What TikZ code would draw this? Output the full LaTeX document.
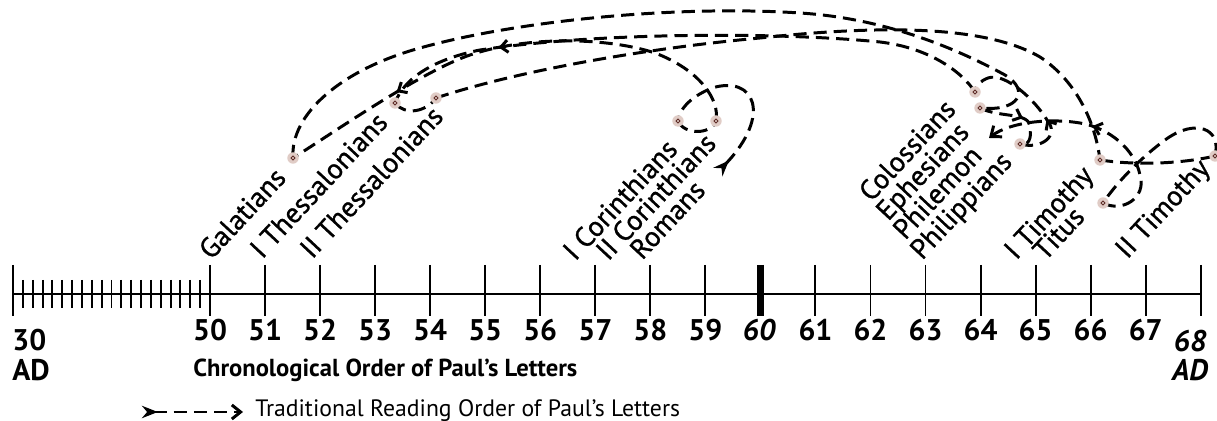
\documentclass[tikz,border=0pt]{standalone}
\usepackage{fontspec}
\setmainfont{PT Sans}
\newfontfamily\lblfont[FakeBold=1]{PT Sans}
\usepackage{tikz}
\usetikzlibrary{arrows.meta,decorations.markings}
\definecolor{halo}{RGB}{224,204,198}
\definecolor{ring}{RGB}{95,45,40}

\begin{document}
\begin{tikzpicture}[
            x=0.02cm, y=-0.02cm,
            route/.style={dash pattern=on 7.5pt off 4pt, line width=1.7pt},
            midtip/.style={postaction={decorate}, decoration={markings,
                mark=at position #1 with {\arrow{Straight Barb[length=4pt,width=7pt]}}}},
            stop/.style={circle, fill=halo, minimum size=6.5pt, inner sep=0pt,
                path picture={\draw[ring, line width=0.5pt] (path picture bounding box.center) circle (1.1pt);}},
            letter/.style={rotate=47, anchor=base west, inner sep=0pt, font=\lblfont\fontsize{16}{18}\selectfont},
            yr/.style={inner sep=0pt, font=\bfseries\fontsize{17}{19}\selectfont}
        ]
            \useasboundingbox (0,0) rectangle (1217,421);

            % time line
            \draw [line width=1.1pt] (13,294) -- (1201,294);
            \draw [line width=1.1pt] (13,265) -- (13,316);
            \foreach \k in {1,...,19} {
                \draw [line width=1.1pt] ({13+\k*9.85},280) -- ({13+\k*9.85},308);
            }
            \foreach \y in {50,51,...,59,61,62,...,68} {
                \draw [line width=1.1pt] ({210+(\y-50)*55.04},265) -- ({210+(\y-50)*55.04},316);
            }
            \draw [line width=4pt] (760.4,265) -- (760.4,316);

            % years
            \node[yr, anchor=west] (y30) at (12,340) {30};
            \node[yr, anchor=west] (ad30) at (12,370) {AD};
            \foreach \y in {50,51,...,59,61,62,...,67} {
                \node[yr] (y\y) at ({210+(\y-50)*55.04},330) {\y};
            }
            \node[yr, font=\bfseries\itshape\fontsize{17}{19}\selectfont] (y60) at (759,330) {60};
            \node[yr, font=\bfseries\itshape\fontsize{17}{19}\selectfont] (y68) at (1190,341) {68};
            \node[yr, font=\bfseries\itshape\fontsize{17}{19}\selectfont] (ad68) at (1190,370) {AD};
            \node[anchor=west, inner sep=0pt, font=\bfseries\fontsize{14}{16}\selectfont] (chron) at (193,370) {Chronological Order of Paul’s Letters};

            % letters
            \node[letter] (lgal) at (211,261) {Galatians};
            \node[letter] (lthA) at (262,260) {I Thessalonians};
            \node[letter] (lthB) at (312,260) {II Thessalonians};
            \node[letter] (lcorA) at (575,262) {I Corinthians};
            \node[letter] (lcorB) at (608,262) {II Corinthians};
            \node[letter] (lrom) at (642,261) {Romans};
            \node[letter] (lcol) at (871,203) {Colossians};
            \node[letter] (leph) at (888,222) {Ephesians};
            \node[letter] (lphm) at (905,241) {Philemon};
            \node[letter] (lphp) at (922,261) {Philippians};
            \node[letter] (ltimA) at (1016,261) {I Timothy};
            \node[letter] (ltit) at (1045,262) {Titus};
            \node[letter] (ltimB) at (1127,260) {II Timothy};

            % stops of the reading order
            \coordinate (rom) at (718,172);
            \coordinate (corA) at (678,121);
            \coordinate (corB) at (716,121);
            \coordinate (gal) at (293,158);
            \coordinate (eph) at (980,108);
            \coordinate (php) at (1020,144);
            \coordinate (col) at (975,92);
            \coordinate (thA) at (395,103);
            \coordinate (thB) at (436,98);
            \coordinate (timA) at (1100,160);
            \coordinate (timB) at (1215,156);
            \coordinate (tit) at (1103,203);
            \coordinate (phm) at (989,138);

            \draw [route, {Stealth[reversed,length=9pt,width=7pt]}-] (rom) .. controls (772,115) and (755,75) .. (712,88) .. controls (695,95) and (680,106) .. (corA);
            \draw [route] (corA) .. controls (684,135) and (711,135) .. (corB);
            \draw [route, midtip=0.75] (corB) .. controls (720,100) and (700,70) .. (655,53) .. controls (610,38) and (530,35) .. (470,55) .. controls (420,72) and (330,135) .. (gal);
            \draw [route] (gal) .. controls (290,115) and (340,70) .. (420,48) .. controls (520,20) and (680,5) .. (800,13) .. controls (880,18) and (950,45) .. (1005,75) .. controls (1030,90) and (1020,112) .. (eph);
            \draw [route, midtip=0.55] (eph) .. controls (1000,118) and (1028,112) .. (1030,126) .. controls (1032,140) and (1028,146) .. (php);
            \draw [route, midtip=0.35] (php) .. controls (1042,150) and (1060,135) .. (1047,120) .. controls (1035,100) and (1005,72) .. (988,78) .. controls (980,81) and (976,86) .. (col);
            \draw [route, midtip=0.8] (col) .. controls (962,72) and (930,48) .. (880,42) .. controls (780,32) and (600,32) .. (480,50) .. controls (440,58) and (405,75) .. (thA);
            \draw [route] (thA) .. controls (405,116) and (426,112) .. (thB);
            \draw [route] (thB) .. controls (520,70) and (650,48) .. (760,38) .. controls (880,25) and (985,25) .. (1040,57) .. controls (1075,80) and (1095,120) .. (timA);
            \draw [route] (timA) .. controls (1140,166) and (1185,163) .. (timB);
            \draw [route] (timB) .. controls (1222,128) and (1195,118) .. (1165,140) .. controls (1138,160) and (1115,185) .. (tit);
            \draw [route, midtip=0.55, -{Straight Barb[length=5pt,width=8pt]}] (tit) .. controls (1122,213) and (1147,198) .. (1140,175) .. controls (1135,150) and (1110,128) .. (1080,123) .. controls (1050,118) and (1010,122) .. (phm);

            \foreach \p in {corA,corB,gal,eph,php,col,thA,thB,timA,timB,tit} {
                \node[stop] (d\p) at (\p) {};
            }

            % legend
            \coordinate (legA) at (142,412);
            \coordinate (legB) at (243,412);
            \draw [route, {Stealth[reversed,length=9pt,width=7pt]}-{Straight Barb[length=5pt,width=8pt]}] (legA) -- (legB);
            \node[anchor=west, inner sep=0pt, font=\fontsize{13.5}{15}\selectfont] (legtxt) at (255,411) {Traditional Reading Order of Paul’s Letters};
        \end{tikzpicture}
\end{document}
